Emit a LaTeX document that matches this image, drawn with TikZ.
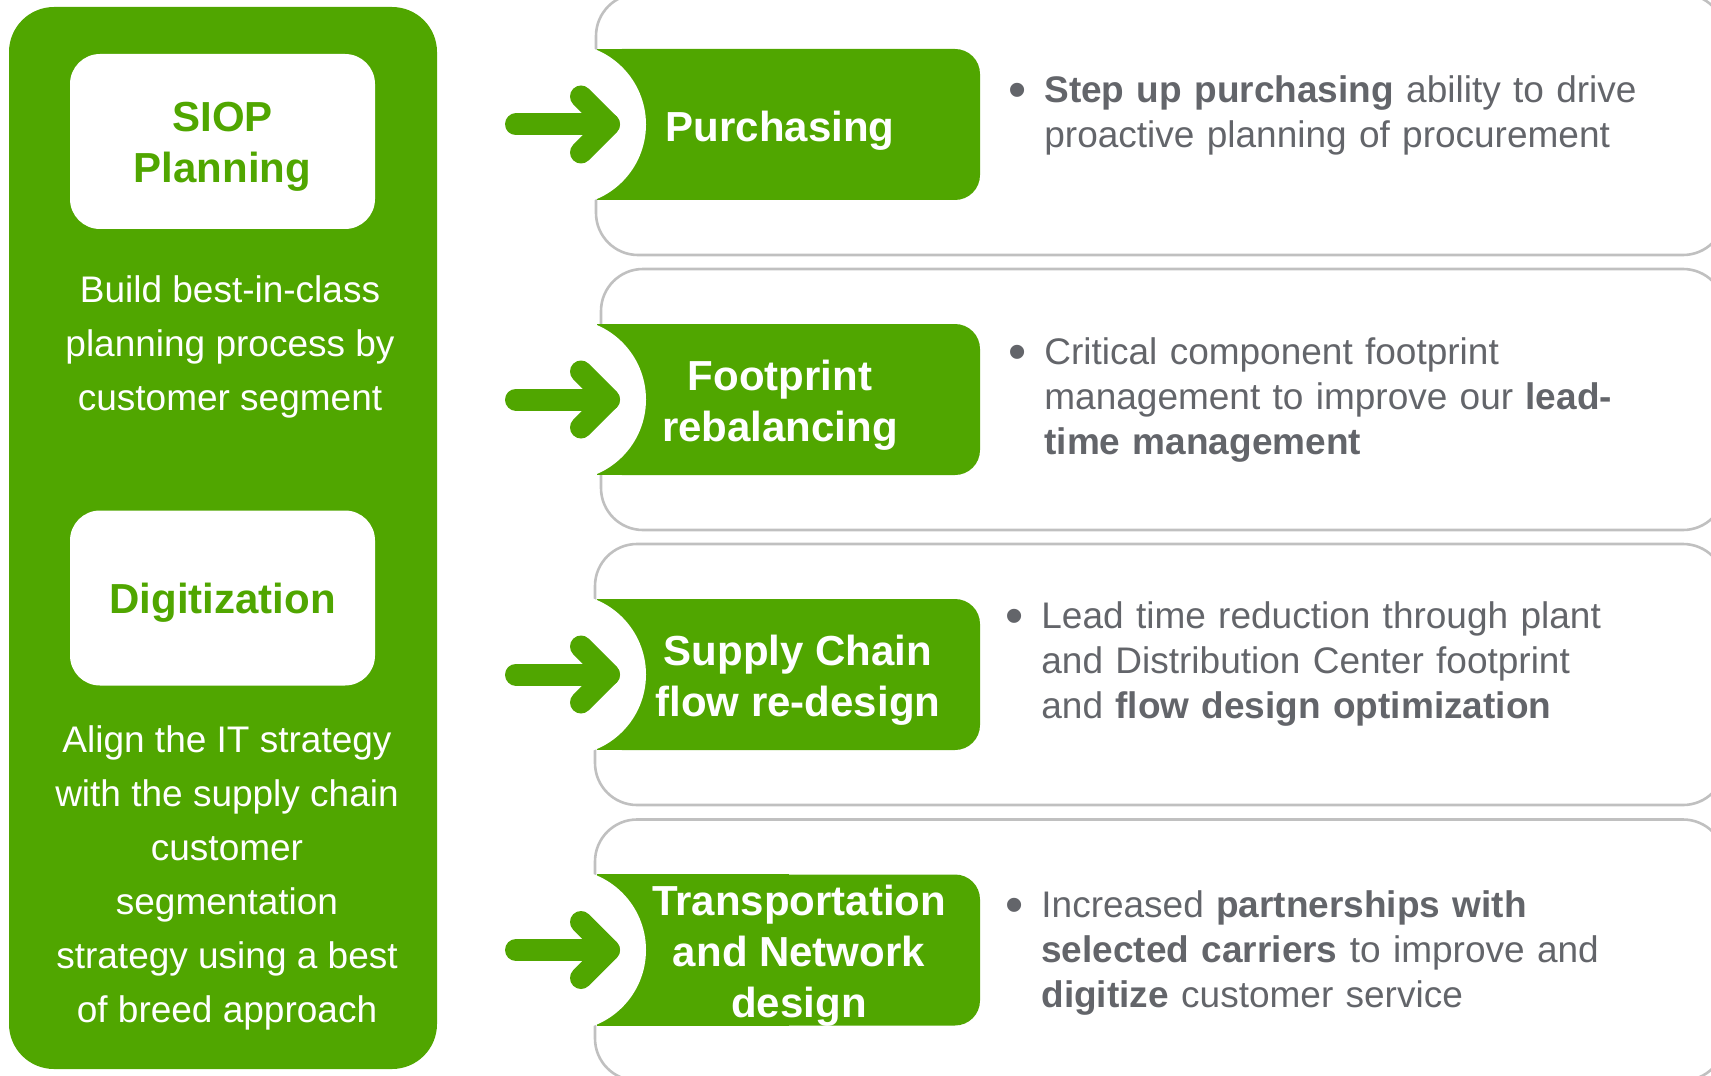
\documentclass[tikz,border=0pt]{standalone}
\usepackage{fontspec}
\usepackage{graphicx}
\setmainfont{Liberation Sans}
\usetikzlibrary{positioning}

\definecolor{hgreen}{RGB}{80,166,0}
\definecolor{textgrey}{RGB}{99,101,106}
\definecolor{framegrey}{RGB}{192,192,192}

\newcommand{\bul}{\llap{\raisebox{-0.12em}{\scalebox{1.4}{\textbullet}}\hspace{9pt}}}

\begin{document}
\begin{tikzpicture}[
x=0.5pt,
y=-0.5pt,
leftpanel/.style={
  fill=hgreen,
  rounded corners=22.5pt
  },
keybox/.style={
  fill=white,
  rounded corners=15pt,
  minimum width=152.5pt,
  minimum height=87.5pt
  },
keytext/.style={
  text=hgreen,
  align=center,
  font=\bfseries\fontsize{21}{25.5}\selectfont
  },
lefttext/.style={
  text=white,
  align=center,
  font=\fontsize{18.5}{27}\selectfont
  },
frame/.style={
  draw=framegrey,
  line width=1.3pt,
  rounded corners=21pt
  },
headbox/.style={
  fill=hgreen,
  rounded corners=12.5pt,
  minimum width=191.5pt,
  minimum height=75.5pt,
  inner sep=0pt
  },
headtext/.style={
  text=white,
  align=center,
  font=\bfseries\fontsize{21}{25.5}\selectfont
  },
bullettext/.style={
  anchor=north west,
  inner sep=0pt,
  text width=320pt,
  align=left,
  text=textgrey,
  execute at begin node=\setlength{\parindent}{0pt},
  font=\fontsize{18.5}{22.5}\selectfont
  },
pointer/.style={
  draw=hgreen,
  line width=11pt,
  line cap=round,
  line join=round
  }
]
\useasboundingbox (0,0) rectangle (1711,1075);

% left column
\fill[leftpanel] (9,7) rectangle (437,1069);
\node[keybox] (siop) at (222.5,141.5) {};
\node[keytext] (siopname) at (222.5,147) {SIOP\\Planning};
\node[lefttext] (siopdesc) at (230,347) {Build best-in-class\\planning process by\\customer segment};
\node[keybox] (digi) at (222.5,598) {};
\node[keytext] (diginame) at (222.5,602.5) {Digitization};
\node[lefttext] (digidesc) at (227,878) {Align the IT strategy\\with the supply chain\\customer\\segmentation\\strategy using a best\\of breed approach};

% rows
\foreach \cy/\px [count=\i] in {124.5/596,399.5/601,674.5/595,950/595}
{
  \draw[frame] (\px,\cy-130.5) rectangle (1725,\cy+130.5);
  \node[headbox] (box\i) at (788.5,\cy) {};
  \fill[hgreen] (box\i.north west) rectangle (box\i.south);
  \fill[white] (565,\cy) circle (40.5pt);
  \coordinate (tail\i) at (516,\cy);
  \coordinate (tip\i) at (609,\cy);
  \draw[pointer] (tail\i) -- (tip\i);
  \draw[pointer] ([shift={(-28,-28)}]tip\i) -- (tip\i) -- ([shift={(-28,28)}]tip\i);
}

\node[headtext] (head1) at (780,131) {Purchasing};
\node[headtext] (head2) at (780,405) {Footprint\\rebalancing};
\node[headtext] (head3) at (798,680) {Supply Chain\\flow re-design};
\node[headtext] (head4) at (799,956) {Transportation\\and Network\\design};

\node[bullettext] (note1) at (1044,75.5) {\bul\textbf{Step up purchasing} ability to drive\\proactive planning of procurement};
\node[bullettext] (note2) at (1044,337.5) {\bul Critical component footprint\\management to improve our \textbf{lead-}\\\textbf{time management}};
\node[bullettext] (note3) at (1041,601.5) {\bul Lead time reduction through plant\\and Distribution Center footprint\\and \textbf{flow design optimization}};
\node[bullettext] (note4) at (1041,890.5) {\bul Increased \textbf{partnerships with}\\\textbf{selected carriers} to improve and\\\textbf{digitize} customer service};
\end{tikzpicture}
\end{document}
